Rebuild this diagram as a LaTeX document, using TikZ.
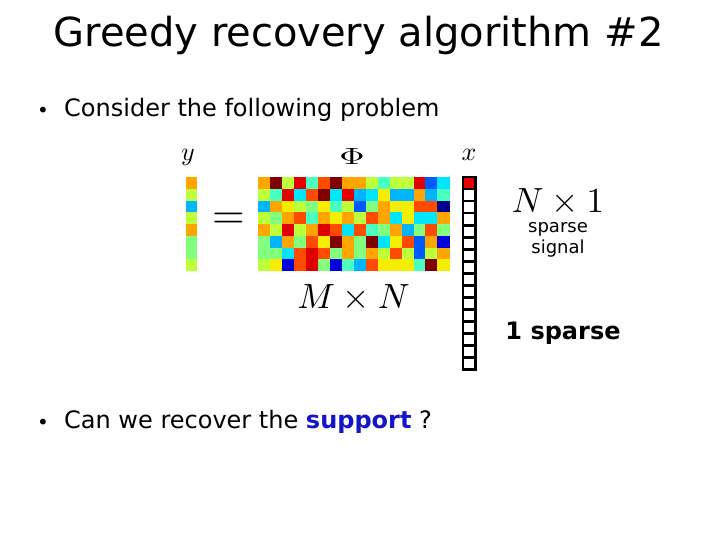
\documentclass[tikz,border=0pt]{standalone}
\usepackage[no-math]{fontspec}
\setmainfont{DejaVu Sans}
\definecolor{jetDR}{RGB}{128,0,0}
\definecolor{jetR}{RGB}{225,0,0}
\definecolor{jetOR}{RGB}{255,75,0}
\definecolor{jetO}{RGB}{255,165,0}
\definecolor{jetY}{RGB}{245,238,0}
\definecolor{jetYG}{RGB}{190,255,60}
\definecolor{jetLG}{RGB}{130,255,125}
\definecolor{jetAQ}{RGB}{75,255,190}
\definecolor{jetC}{RGB}{0,230,255}
\definecolor{jetSB}{RGB}{0,180,255}
\definecolor{jetDB}{RGB}{0,90,255}
\definecolor{jetB}{RGB}{0,0,220}
\definecolor{jetNB}{RGB}{0,0,140}
\definecolor{supblue}{RGB}{20,20,200}
\definecolor{xred}{RGB}{230,0,0}
\tikzset{
  body/.style={anchor=base west, inner sep=0pt, font=\fontsize{24}{29}\selectfont},
  bul/.style={anchor=base, inner sep=0pt, font=\fontsize{20}{24}\selectfont},
  mlab/.style={anchor=base, inner sep=0pt, font=\fontsize{10}{12}\selectfont, scale=2.6, transform shape},
  bigmath/.style={anchor=base, inner sep=0pt, font=\fontsize{10}{12}\selectfont, scale=3.5, transform shape},
  small/.style={anchor=base, inner sep=0pt, font=\fontsize{18}{21}\selectfont},
  xcell/.style={draw=black, line width=2.8pt, fill=white}
}
\begin{document}
\begin{tikzpicture}[x=1pt,y=-1pt]
\useasboundingbox (0,0) rectangle (720,540);
% title
\node[anchor=base, inner sep=0pt, font=\fontsize{40}{48}\selectfont] (title) at (358.5,47) {Greedy recovery algorithm \#2};
% bullets
\node[bul] (dot1) at (43,118) {•};
\node[body] (b1) at (64,117) {Consider the following problem};
\node[bul] (dot2) at (43,429) {•};
\node[body] (b2) at (64,428) {Can we recover the \textcolor{supblue}{\bfseries support} ?};
% matrix Phi
\def\mx{258.3}\def\my{177.3}\def\mw{11.94}\def\mh{11.71}
\foreach \row [count=\r from 0] in {
 {O,DR,YG,R,AQ,OR,DR,O,O,YG,AQ,YG,YG,R,DB,C},
 {YG,AQ,R,C,OR,DR,C,R,SB,C,Y,SB,SB,O,SB,AQ},
 {SB,O,Y,YG,LG,Y,AQ,YG,DB,LG,O,Y,Y,OR,OR,NB},
 {YG,LG,O,OR,AQ,O,Y,O,YG,OR,O,C,Y,C,C,O},
 {O,YG,R,YG,O,R,OR,C,OR,AQ,LG,O,SB,LG,OR,LG},
 {LG,SB,O,LG,OR,Y,DR,O,LG,DR,C,Y,OR,DB,O,B},
 {LG,LG,C,OR,R,OR,LG,O,LG,O,YG,OR,YG,DB,YG,O},
 {YG,Y,B,OR,R,LG,B,AQ,SB,OR,Y,Y,Y,AQ,DR,Y}} {
  \foreach \c [count=\k from 0] in \row {
    \fill[jet\c] (\mx+\k*\mw,\my+\r*\mh) rectangle ++(\mw+0.3,\mh+0.3);
  }
}
% y vector
\foreach \c [count=\k from 0] in {O,YG,SB,YG,O,LG,LG,YG} {
  \fill[jet\c] (186,\my+\k*\mh) rectangle ++(10.7,\mh+0.3);
}
% x vector
\foreach \k in {0,...,15} {
  \ifnum\k=0
    \draw[xcell, fill=xred] (463,177+\k*12.03) rectangle ++(12.5,12.03);
  \else
    \draw[xcell] (463,177+\k*12.03) rectangle ++(12.5,12.03);
  \fi
}
% math labels
\node[mlab] (ylab) at (188,161) {$y$};
\node[mlab, xscale=1.35, yscale=0.9] (philab) at (352,165) {$\Phi$};
\node[mlab] (xlab) at (469,160.5) {$x$};
\node[anchor=base, inner sep=0pt, font=\fontsize{10}{12}\selectfont, scale=4.2, transform shape] (eq) at (228.5,229) {$=$};
\node[bigmath] (mn) at (353.5,308) {$M\times N$};
\node[bigmath] (n1) at (558,212) {$N\times 1$};
\node[small] (sp) at (558,233) {sparse};
\node[small] (sg) at (558,254) {signal};
\node[anchor=base, inner sep=0pt, font=\fontsize{24}{29}\selectfont\bfseries] (onesp) at (563,339) {1 sparse};
\end{tikzpicture}
\end{document}
